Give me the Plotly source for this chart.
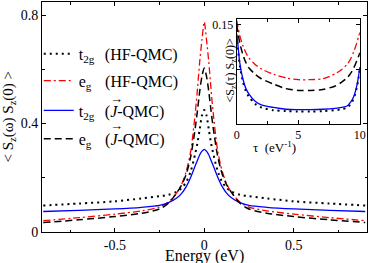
import plotly.graph_objects as go

# ---- main panel data: spin-spin correlation vs energy ----
energy = [-0.9, -0.7, -0.5, -0.35, -0.25, -0.2, -0.15, -0.125, -0.1, -0.075, -0.05, -0.0375, -0.025, -0.0125, 0.0,
          0.0125, 0.025, 0.0375, 0.05, 0.075, 0.1, 0.125, 0.15, 0.2, 0.25, 0.35, 0.5, 0.7, 0.9]
t2g_hf = [0.0976, 0.105, 0.113, 0.124, 0.132, 0.137, 0.150, 0.163, 0.185, 0.225, 0.29, 0.33, 0.38, 0.43, 0.45,
          0.43, 0.38, 0.33, 0.29, 0.225, 0.185, 0.163, 0.150, 0.137, 0.132, 0.124, 0.113, 0.105, 0.0976]
eg_hf = [0.042, 0.053, 0.066, 0.078, 0.092, 0.110, 0.148, 0.178, 0.225, 0.30, 0.44, 0.53, 0.63, 0.71, 0.775,
         0.71, 0.63, 0.53, 0.44, 0.30, 0.225, 0.178, 0.148, 0.110, 0.092, 0.078, 0.066, 0.053, 0.042]
t2g_j = [0.0755, 0.080, 0.085, 0.091, 0.098, 0.108, 0.127, 0.143, 0.168, 0.203, 0.245, 0.265, 0.285, 0.298, 0.305,
         0.298, 0.285, 0.265, 0.245, 0.203, 0.168, 0.143, 0.127, 0.108, 0.098, 0.091, 0.085, 0.080, 0.0755]
eg_j = [0.035, 0.045, 0.057, 0.069, 0.085, 0.106, 0.148, 0.175, 0.215, 0.28, 0.385, 0.45, 0.52, 0.575, 0.605,
        0.575, 0.52, 0.45, 0.385, 0.28, 0.215, 0.175, 0.148, 0.106, 0.085, 0.069, 0.057, 0.045, 0.035]

# ---- inset data: imaginary-time correlation ----
tau = [0, 0.1, 0.25, 0.5, 0.75, 1, 1.5, 2, 3, 4, 5, 6, 7, 8, 8.5, 9, 9.25, 9.5, 9.75, 9.9, 10]
eg_hf_tau = [0.155, 0.148, 0.138, 0.127, 0.119, 0.113, 0.106, 0.101, 0.095, 0.091, 0.089, 0.089, 0.090, 0.0956,
             0.100, 0.1067, 0.112, 0.120, 0.130, 0.137, 0.1415]
eg_j_tau = [0.150, 0.142, 0.130, 0.117, 0.108, 0.102, 0.095, 0.090, 0.084, 0.079, 0.077, 0.077, 0.078, 0.082,
            0.086, 0.0915, 0.096, 0.102, 0.110, 0.115, 0.119]
t2g_j_tau = [0.140, 0.128, 0.108, 0.090, 0.079, 0.073, 0.065, 0.061, 0.058, 0.056, 0.0556, 0.0556, 0.056, 0.057,
             0.058, 0.060, 0.064, 0.070, 0.082, 0.093, 0.103]
t2g_hf_tau = [0.138, 0.125, 0.105, 0.087, 0.076, 0.070, 0.062, 0.058, 0.055, 0.054, 0.0535, 0.0535, 0.054, 0.055,
              0.056, 0.058, 0.062, 0.068, 0.080, 0.091, 0.101]

labels = ["t<sub>2g</sub>\u2009\u2009 (HF-QMC)",
          "e<sub>g</sub>\u2009\u2009\u2009 (HF-QMC)",
          "t<sub>2g</sub>\u2009\u2009 (<i>J</i>-QMC)",
          "e<sub>g</sub>\u2009\u2009\u2009 (<i>J</i>-QMC)"]

FONT = "Times New Roman, Liberation Serif, Tinos, serif"
styles = [
    dict(color="black", width=2, dash="2px,4px"),
    dict(color="red", width=1.3, dash="7px,3px,2px,3px"),
    dict(color="blue", width=1.3, dash="solid"),
    dict(color="black", width=1.5, dash="7px,4px"),
]
legend_ids = ["legend", "legend2", "legend3", "legend4"]
legend_rows = [0.775, 0.658, 0.528, 0.405]

fig = go.Figure()
main_series = [t2g_hf, eg_hf, t2g_j, eg_j]
for i, (ys, st) in enumerate(zip(main_series, styles)):
    fig.add_trace(go.Scatter(x=energy, y=ys, mode="lines", line=dict(shape="spline", smoothing=0.8, **st),
                             name=labels[i], legend=legend_ids[i], xaxis="x", yaxis="y"))

inset_series = [t2g_hf_tau, eg_hf_tau, t2g_j_tau, eg_j_tau]
for ys, st in zip(inset_series, styles):
    fig.add_trace(go.Scatter(x=tau, y=ys, mode="lines", line=dict(shape="spline", smoothing=0.8, **st),
                             showlegend=False, xaxis="x2", yaxis="y2"))

axis_common = dict(showline=True, linecolor="black", linewidth=1, mirror="allticks", ticks="inside",
                   tickcolor="black", showgrid=False, zeroline=False,
                   tickfont=dict(family=FONT, size=14, color="black"))

legend_layout = {}
for lid, ly in zip(legend_ids, legend_rows):
    legend_layout[lid] = dict(x=-0.01, y=ly, xanchor="left", yanchor="middle", bgcolor="rgba(0,0,0,0)",
                              font=dict(family=FONT, size=16, color="black"), itemwidth=30)

fig.update_layout(
    width=374, height=263,
    margin=dict(l=42, r=2, t=1, b=31),
    paper_bgcolor="white", plot_bgcolor="white",
    font=dict(family=FONT, color="black"),
    showlegend=True,
    **legend_layout,
    xaxis=dict(domain=[0, 1], range=[-0.907, 0.91], tickvals=[-0.5, 0, 0.5], ticktext=["-0.5", "0", "0.5"],
               ticklen=4, minor=dict(dtick=0.25, ticklen=2.5, ticks="inside", tickcolor="black"),
               **axis_common),
    yaxis=dict(domain=[0, 1], range=[0, 0.848], tickvals=[0, 0.4, 0.8], ticktext=["0", "0.4", "0.8"],
               ticklen=4, minor=dict(dtick=0.2, ticklen=2.5, ticks="inside", tickcolor="black"),
               **axis_common),
    xaxis2=dict(domain=[0.599, 0.978], anchor="y2", range=[0, 10], tickvals=[0, 5, 10],
                ticklen=4, minor=dict(dtick=2.5, ticklen=2.5, ticks="inside", tickcolor="black"),
                **{**axis_common, "tickfont": dict(family=FONT, size=12, color="black")}),
    yaxis2=dict(domain=[0.470, 0.925], anchor="x2", range=[0.0397, 0.1563], tickvals=[0.1, 0.15],
                ticktext=["", "0.15"], ticklen=4,
                **{**axis_common, "tickfont": dict(family=FONT, size=12, color="black")}),
)

# axis titles
fig.add_annotation(text="Energy (eV)", xref="paper", yref="paper", x=0.5, y=-0.104, yanchor="middle",
                   showarrow=False, font=dict(family=FONT, size=16, color="black"))
fig.add_annotation(text="&lt; S<sub>z</sub>(ω) S<sub>z</sub>(0) &gt;", xref="paper", yref="paper",
                   x=-0.103, y=0.5, xanchor="center", yanchor="middle", textangle=-90, showarrow=False,
                   font=dict(family=FONT, size=15, color="black"))
fig.add_annotation(text="τ  (eV<sup>-1</sup>)", xref="paper", yref="paper", x=0.788, y=0.37, yanchor="middle",
                   showarrow=False, font=dict(family=FONT, size=13, color="black"))
fig.add_annotation(text="&lt;S<sub>z</sub>(τ) S<sub>z</sub>(0)&gt;", xref="paper", yref="paper",
                   x=0.58, y=0.70, xanchor="center", yanchor="middle", textangle=-90, showarrow=False,
                   font=dict(family=FONT, size=12, color="black"))
# vector arrows over J in the legend
for ya in (0.580, 0.462):
    fig.add_annotation(text="→", xref="paper", yref="paper", x=0.228, y=ya, xanchor="center", yanchor="middle",
                       showarrow=False, font=dict(family=FONT, size=13, color="black"))

fig.write_html("out.html", config={"displayModeBar": False},
               post_script="document.body.style.margin='0';document.body.style.padding='0';")
